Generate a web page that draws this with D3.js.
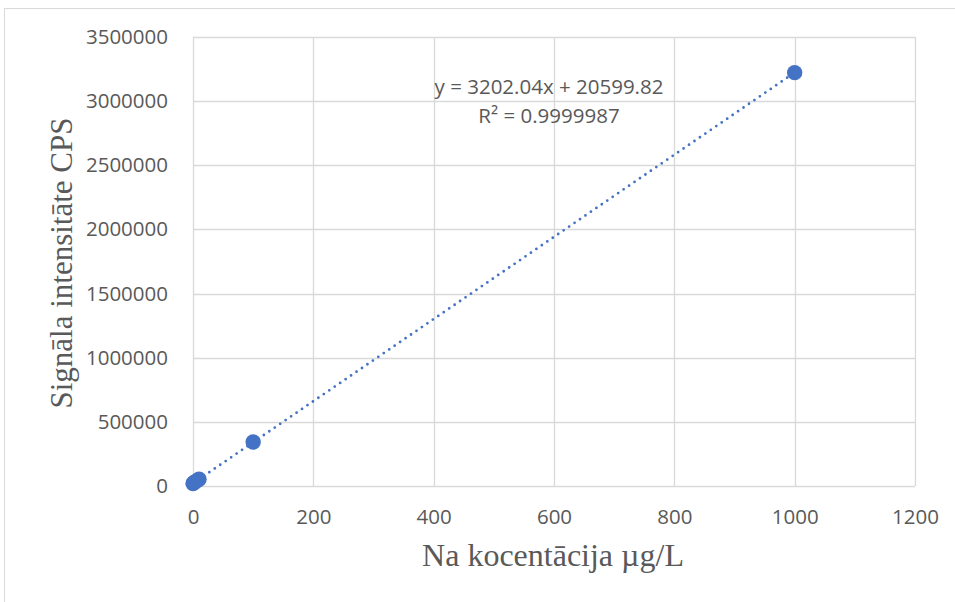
<!DOCTYPE html>
<html>
<head>
<meta charset="utf-8">
<script src="https://cdn.jsdelivr.net/npm/d3@7"></script>
<style>
  html, body { margin: 0; padding: 0; background: #fff; }
  svg { display: block; }
</style>
</head>
<body>
<svg id="chart" width="955" height="602"></svg>
<script>
// Calibration data: Na concentration (µg/L) vs signal intensity (CPS)
const concentrations = [0, 2, 5, 10, 100, 1000];
const intensities = [20000, 27000, 36600, 52600, 343000, 3222000];

// Linear fit reported for the calibration
const slope = 3202.04;
const intercept = 20599.82;
const fitRange = [0, 1000];
const equationLines = ["y = 3202.04x + 20599.82", "R² = 0.9999987"];

const xTicks = [0, 200, 400, 600, 800, 1000, 1200];
const yTicks = [0, 500000, 1000000, 1500000, 2000000, 2500000, 3000000, 3500000];

const xTitle = "Na kocentācija µg/L";
const yTitle = "Signāla intensitāte CPS";

const svg = d3.select("#chart");
const W = 955, H = 602;
const plot = { left: 193, right: 915, top: 37, bottom: 486 };

const x = d3.scaleLinear().domain([0, 1200]).range([plot.left, plot.right]);
const y = d3.scaleLinear().domain([0, 3500000]).range([plot.bottom, plot.top]);

const grid = "#d9d9d9";
const textColor = "#595959";
const blue = "#4472c4";
const sans = "'Open Sans', 'Noto Sans', sans-serif";
const serif = "'Liberation Serif', 'DejaVu Serif', serif";
const tickSize = "20.5px";

// Chart frame
svg.append("rect")
  .attr("x", 4.5).attr("y", 8.5)
  .attr("width", W + 10).attr("height", H + 10)
  .attr("fill", "#fff").attr("stroke", grid).attr("stroke-width", 1);

// Horizontal gridlines
svg.append("g").selectAll("line").data(yTicks).join("line")
  .attr("x1", plot.left).attr("x2", plot.right)
  .attr("y1", d => Math.round(y(d)) + 0.5).attr("y2", d => Math.round(y(d)) + 0.5)
  .attr("stroke", grid).attr("stroke-width", 1.3);

// Vertical gridlines
svg.append("g").selectAll("line").data(xTicks).join("line")
  .attr("x1", d => Math.round(x(d)) + 0.5).attr("x2", d => Math.round(x(d)) + 0.5)
  .attr("y1", plot.top).attr("y2", plot.bottom)
  .attr("stroke", grid).attr("stroke-width", 1.3);

// Axes (tick labels only; lines come from the grid)
const yAxis = d3.axisLeft(y).tickValues(yTicks).tickSize(0).tickPadding(25)
  .tickFormat(d3.format("d"));
svg.append("g").attr("transform", `translate(${plot.left},0)`).call(yAxis)
  .call(g => g.select(".domain").remove())
  .call(g => g.selectAll("text")
    .attr("fill", textColor).style("font-family", sans).style("font-size", tickSize));

const xAxis = d3.axisBottom(x).tickValues(xTicks).tickSize(0).tickPadding(23)
  .tickFormat(d3.format("d"));
svg.append("g").attr("transform", `translate(0,${plot.bottom})`).call(xAxis)
  .call(g => g.select(".domain").remove())
  .call(g => g.selectAll("text")
    .attr("fill", textColor).style("font-family", sans).style("font-size", tickSize));

// Axis titles
svg.append("text")
  .attr("x", 553).attr("y", 566)
  .attr("text-anchor", "middle").attr("fill", textColor)
  .style("font-family", serif).style("font-size", "32px")
  .text(xTitle);

svg.append("text")
  .attr("transform", `translate(72,263) rotate(-90)`)
  .attr("text-anchor", "middle").attr("fill", textColor)
  .style("font-family", serif).style("font-size", "31px")
  .text(yTitle);

// Dotted linear trendline
svg.append("line")
  .attr("x1", x(fitRange[0])).attr("y1", y(slope * fitRange[0] + intercept))
  .attr("x2", x(fitRange[1])).attr("y2", y(slope * fitRange[1] + intercept))
  .attr("stroke", blue).attr("stroke-width", 2.8)
  .attr("stroke-linecap", "round").attr("stroke-dasharray", "0 6.6");

// Data markers
svg.append("g").selectAll("circle").data(concentrations).join("circle")
  .attr("cx", d => x(d))
  .attr("cy", (d, i) => y(intensities[i]))
  .attr("r", 7.7)
  .attr("fill", blue);

// Trendline equation
svg.append("g").selectAll("text").data(equationLines).join("text")
  .attr("x", 549).attr("y", (d, i) => 94 + i * 29)
  .attr("text-anchor", "middle").attr("fill", textColor)
  .style("font-family", sans).style("font-size", tickSize)
  .text(d => d);
</script>
</body>
</html>
